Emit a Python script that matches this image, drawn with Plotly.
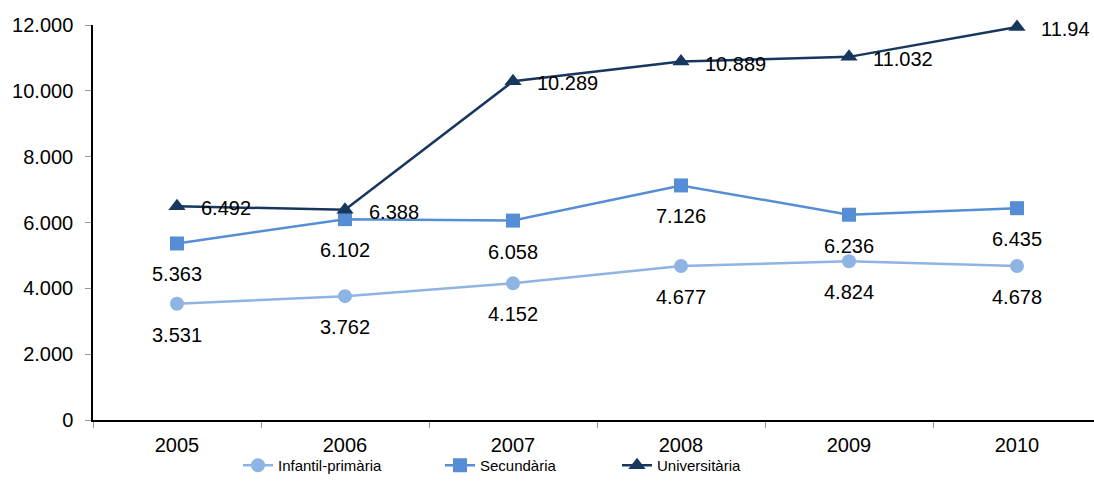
import plotly.graph_objects as go

years = ["2005", "2006", "2007", "2008", "2009", "2010"]
infantil = [3531, 3762, 4152, 4677, 4824, 4678]
secundaria = [5363, 6102, 6058, 7126, 6236, 6435]
universitaria = [6492, 6388, 10289, 10889, 11032, 11940]
univ_labels = ["6.492", "6.388", "10.289", "10.889", "11.032", "11.94"]
y_ticks = [0, 2000, 4000, 6000, 8000, 10000, 12000]

def fmt(v):
    return f"{v:,}".replace(",", ".")

c_inf = "#8EB4E3"
c_sec = "#558ED5"
c_uni = "#17375E"
FONT = "Liberation Sans, Arial, sans-serif"

fig = go.Figure()
fig.add_trace(go.Scatter(x=years, y=infantil, name="Infantil-primària", mode="lines+markers",
                         line=dict(color=c_inf, width=2.5), cliponaxis=False,
                         marker=dict(symbol="circle", size=14, color=c_inf),
                         legend="legend"))
fig.add_trace(go.Scatter(x=years, y=secundaria, name="Secundària", mode="lines+markers",
                         line=dict(color=c_sec, width=2.5), cliponaxis=False,
                         marker=dict(symbol="square", size=14, color=c_sec),
                         legend="legend2"))
fig.add_trace(go.Scatter(x=years, y=universitaria, name="Universitària", mode="lines+markers",
                         line=dict(color=c_uni, width=2.5), cliponaxis=False,
                         marker=dict(symbol="triangle-up", size=15, color=c_uni),
                         legend="legend3"))

lab_font = dict(family=FONT, size=20, color="#000")
annotations = []
for i, v in enumerate(infantil):
    annotations.append(dict(x=i, y=v, text=fmt(v), showarrow=False, xanchor="center",
                            yanchor="middle", yshift=-31, font=lab_font))
for i, v in enumerate(secundaria):
    annotations.append(dict(x=i, y=v, text=fmt(v), showarrow=False, xanchor="center",
                            yanchor="middle", yshift=-31, font=lab_font))
for i, (v, t) in enumerate(zip(universitaria, univ_labels)):
    annotations.append(dict(x=i, y=v, text=t, showarrow=False, xanchor="left",
                            yanchor="middle", xshift=22, yshift=-2, font=lab_font))

W, H = 1094, 482
L, R, T, B = 93, 0, 25, 61
pw = W - L - R
ph = H - T - B

def lx(px):
    return (px - L) / pw

def ly(py):
    return (H - B - py) / ph

legend_common = dict(orientation="h", yanchor="middle", xanchor="left", bgcolor="rgba(0,0,0,0)",
                     font=dict(family=FONT, size=15, color="#000"), borderwidth=0)

fig.update_layout(
    width=W, height=H,
    margin=dict(l=L, r=R, t=T, b=B, pad=0),
    paper_bgcolor="white", plot_bgcolor="white",
    separators=",.",
    font=dict(family=FONT, size=20, color="#000"),
    annotations=annotations,
    showlegend=True,
    legend=dict(x=lx(278 - 40), y=ly(467), **legend_common),
    legend2=dict(x=lx(480 - 40), y=ly(467), **legend_common),
    legend3=dict(x=lx(657 - 40), y=ly(467), **legend_common),
    xaxis=dict(type="category", range=[-0.5, pw / 168 - 0.5], showline=True, linecolor="#000",
               linewidth=1.5, ticks="outside", tickson="boundaries", ticklen=6, tickcolor="#999",
               showgrid=False, zeroline=False, tickfont=lab_font, automargin=False,
               ticklabelstandoff=6),
    yaxis=dict(range=[0, 12000], tickvals=y_ticks, tickformat=",d", showline=True, linecolor="#000",
               linewidth=1.5, ticks="outside", ticklen=6, tickcolor="#999", showgrid=False,
               zeroline=False, tickfont=lab_font, automargin=False,
               ticklabelstandoff=8),
)

fig.write_html("out.html", config={"displayModeBar": False},
               post_script="document.body.style.margin='0';document.body.style.overflow='hidden';")
